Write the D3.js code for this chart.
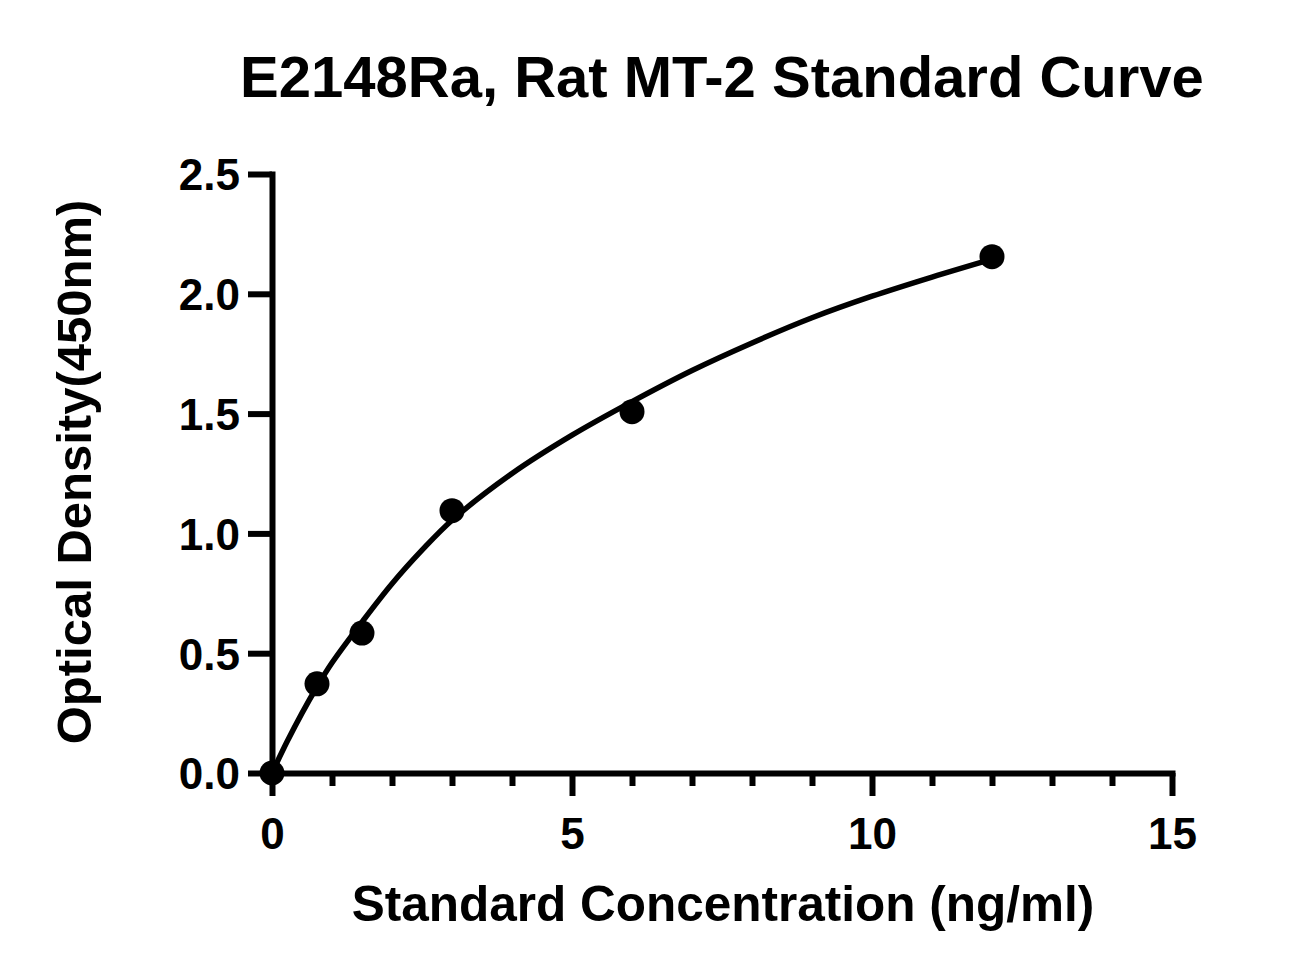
<!DOCTYPE html>
<html>
<head>
<meta charset="utf-8">
<script src="https://cdn.jsdelivr.net/npm/d3@7"></script>
<style>
  html, body { margin: 0; padding: 0; background: #fff; }
  svg { display: block; }
  text { font-family: "Liberation Sans", Arial, sans-serif; font-weight: bold; fill: #000; }
</style>
</head>
<body>
<svg id="chart" width="1311" height="975"></svg>
<script>
// ---- data ----
const title = "E2148Ra, Rat MT-2 Standard Curve";
const xLabel = "Standard Concentration (ng/ml)";
const yLabel = "Optical Density(450nm)";
const concentrations = [0, 0.75, 1.5, 3, 6, 12];
const odValues = [0.0, 0.372, 0.584, 1.095, 1.508, 2.155];
// fitted curve
const curveX = [0, 0.25, 0.5, 0.75, 1, 1.5, 2, 2.5, 3, 4, 5, 6, 7, 8, 9, 10, 11, 12];
const curveY = [0, 0.13, 0.25, 0.36, 0.46, 0.63, 0.79, 0.93, 1.055, 1.25, 1.41, 1.55, 1.68, 1.795, 1.90, 1.99, 2.07, 2.145];
const xMajorTicks = [0, 5, 10, 15];
const xMinorTicks = [1, 2, 3, 4, 6, 7, 8, 9, 11, 12, 13, 14];
const yTicks = [0, 0.5, 1.0, 1.5, 2.0, 2.5];

// ---- layout ----
const svg = d3.select("#chart");
const x = d3.scaleLinear().domain([0, 15]).range([272, 1172]);
const y = d3.scaleLinear().domain([0, 2.5]).range([773, 174]);
const AX = 6;

// title
svg.append("text")
  .attr("x", 722).attr("y", 97)
  .attr("text-anchor", "middle")
  .style("font-size", "58px")
  .text(title);

// x minor ticks
const gxMinor = svg.append("g")
  .attr("transform", `translate(0,${y(0)})`)
  .call(d3.axisBottom(x).tickValues(xMinorTicks).tickSize(13).tickSizeOuter(0).tickFormat(""));
gxMinor.select(".domain").remove();

// x axis
const gx = svg.append("g")
  .attr("transform", `translate(0,${y(0)})`)
  .call(d3.axisBottom(x).tickValues(xMajorTicks).tickSize(23).tickSizeOuter(0).tickPadding(22).tickFormat(d3.format("d")));

// y axis
const gy = svg.append("g")
  .attr("transform", `translate(${x(0)},0)`)
  .call(d3.axisLeft(y).tickValues(yTicks).tickSize(24).tickSizeOuter(0).tickPadding(8).tickFormat(d3.format(".1f")));

[gx, gy, gxMinor].forEach(g => {
  g.selectAll(".domain").style("stroke", "#000").style("stroke-width", AX + "px").style("stroke-linecap", "square");
  g.selectAll(".tick line").style("stroke", "#000").style("stroke-width", AX + "px");
  g.selectAll(".tick text").style("font-size", "44px").attr("fill", "#000")
    .style("font-family", '"Liberation Sans", Arial, sans-serif').style("font-weight", "bold");
});
gx.selectAll(".tick text").attr("dy", "0.71em");
gy.selectAll(".tick text").attr("dy", "0.36em");

// axis labels
svg.append("text")
  .attr("x", 723).attr("y", 921)
  .attr("text-anchor", "middle")
  .style("font-size", "49.5px")
  .text(xLabel);

svg.append("text")
  .attr("transform", `translate(91,472) rotate(-90)`)
  .attr("text-anchor", "middle")
  .style("font-size", "49px")
  .text(yLabel);

// curve
const curveData = curveX.map((d, i) => [d, curveY[i]]);
svg.append("path")
  .datum(curveData)
  .attr("fill", "none")
  .style("stroke", "#000")
  .style("stroke-width", "5.5px")
  .attr("d", d3.line().x(d => x(d[0])).y(d => y(d[1])).curve(d3.curveCatmullRom.alpha(0.5)));

// points
svg.append("g").selectAll("circle")
  .data(concentrations.map((c, i) => [c, odValues[i]]))
  .join("circle")
  .attr("cx", d => x(d[0]))
  .attr("cy", d => y(d[1]))
  .attr("r", 12.5)
  .attr("fill", "#000");
</script>
</body>
</html>
